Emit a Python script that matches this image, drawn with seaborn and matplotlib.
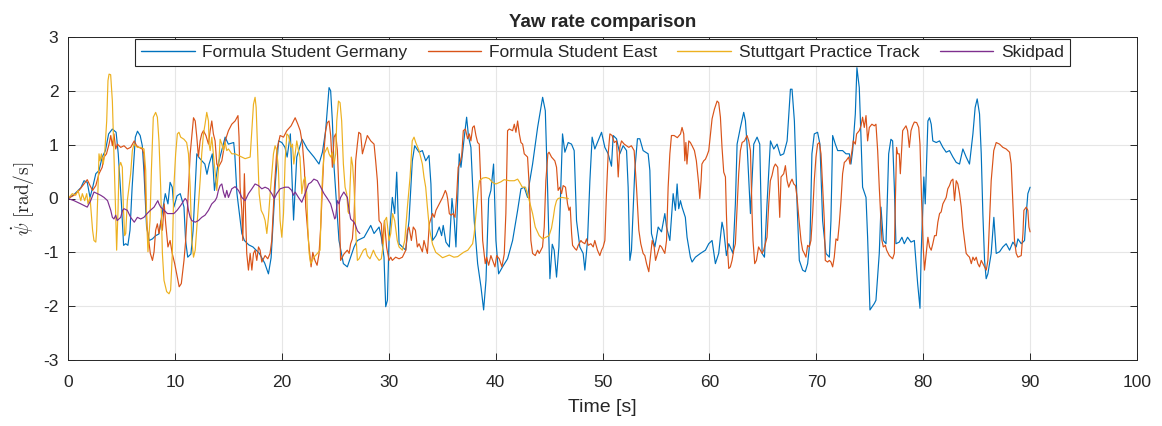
import matplotlib
matplotlib.use("Agg")
import matplotlib.pyplot as plt
import seaborn as sns

# yaw rate traces, (time [s], yaw rate [rad/s])
fsg = [
    (0.0, 0.0), (0.6, 0.08), (1.2, 0.2), (1.5, 0.33), (1.8, 0.3), (2.06, 0.02), (2.3, 0.2), (2.6, 0.46),
    (2.9, 0.52), (3.2, 0.77), (3.5, 0.89), (3.8, 1.2), (4.15, 1.29), (4.5, 1.23), (4.7, 0.83), (5.0, -0.1),
    (5.2, -0.87), (5.4, -0.84), (5.6, -0.87), (5.8, -0.59), (6.0, 0.21), (6.3, 1.14), (6.5, 1.25), (6.75, 1.17),
    (6.95, 0.98), (7.1, 0.52), (7.35, -0.53), (7.6, -0.78), (7.9, -0.75), (8.2, -0.69), (8.5, -0.66), (8.8, -0.28),
    (9.1, 0.09), (9.35, -0.1), (9.55, 0.3), (9.75, 0.21), (9.9, -0.16), (10.2, 0.05), (10.5, 0.09), (10.85, -0.16),
    (11.0, -0.78), (11.2, -1.09), (11.5, -1.03), (11.7, -0.6), (12.05, 0.83), (12.3, 0.75), (12.8, 0.64), (13.0, 0.45),
    (13.2, 0.64), (13.5, 0.83), (13.7, 0.15), (14.0, 0.6), (14.7, 1.14), (15.0, 1.01), (15.5, 1.04), (15.6, 0.83),
    (15.8, 0.1), (16.26, -0.65), (16.5, -0.78), (16.9, -0.86), (17.3, -0.9), (17.9, -1.02), (18.4, -1.2), (18.75, -1.4),
    (19.0, -1.1), (19.4, 0.3), (19.7, 1.07), (20.0, 1.04), (20.3, 0.95), (20.5, 0.77), (20.8, 1.2), (21.1, -0.4),
    (21.4, 0.77), (21.9, 1.1), (22.39, 0.92), (23.01, 0.77), (23.48, 0.64), (23.8, 0.86), (24.1, 1.26), (24.42, 2.06),
    (24.57, 2.0), (24.73, 1.44), (24.89, 0.58), (25.35, -0.78), (25.76, -1.21), (26.13, -1.27), (26.44, -1.09),
    (26.76, -0.9), (27.07, -0.78), (27.7, -0.72), (28.32, -0.5), (28.63, -0.65), (29.1, -0.53), (29.31, -0.72),
    (29.56, -1.09), (29.72, -2.01), (29.88, -1.89), (30.03, -0.78), (30.34, 0.02), (30.56, -0.28), (30.75, 0.49),
    (30.97, -0.84), (31.28, -0.9), (31.59, -0.96), (31.9, -0.41), (32.21, 0.7), (32.43, 0.98), (32.84, 0.86),
    (33.15, 0.89), (33.46, 0.7), (33.77, 0.8), (33.95, 0.27), (34.1, -0.78), (34.42, -0.69), (34.73, -0.53),
    (34.95, -0.69), (35.1, -0.5), (35.35, -0.81), (35.67, -0.9), (35.92, 0.0), (36.13, -0.41), (36.29, -0.9),
    (36.6, 0.83), (36.76, 0.58), (37.07, 1.14), (37.29, 1.51), (37.47, 1.14), (37.69, 0.95), (38.0, -0.41),
    (38.32, -1.21), (38.63, -1.64), (38.88, -2.07), (39.1, -1.52), (39.35, 0.0), (39.56, 0.15), (39.81, 0.64),
    (40.03, -0.78), (40.28, -1.4), (40.65, -1.27), (41.12, -1.12), (41.59, -0.78), (42.06, -0.22), (42.37, 0.18),
    (42.68, 0.21), (42.99, 0.02), (43.15, 0.27), (43.46, 0.64), (43.93, 1.32), (44.4, 1.88), (44.65, 1.63),
    (44.86, 0.21), (45.08, -1.49), (45.3, -0.85), (45.48, -0.96), (45.7, -1.46), (45.92, -0.9), (46.1, 0.21),
    (46.26, 1.2), (46.48, 0.86), (46.79, 1.04), (47.1, 1.01), (47.35, 0.89), (47.57, -0.41), (47.88, -0.9),
    (48.19, -1.02), (48.35, -1.33), (48.6, -0.78), (48.82, 0.33), (49.03, 1.14), (49.28, 0.92), (49.59, 1.07),
    (49.91, 1.23), (50.22, 0.95), (50.53, 0.83), (50.84, 0.6), (51.0, 1.17), (51.31, 1.11), (51.62, 0.83),
    (51.93, 0.98), (52.25, 0.89), (52.4, 0.21), (52.56, -1.15), (52.71, -0.96), (53.02, 0.52), (53.27, 1.11),
    (53.49, 1.11), (53.8, 0.89), (54.27, 0.83), (54.43, 0.52), (54.58, -0.65), (54.9, -0.9), (55.21, -0.53),
    (55.52, -0.62), (55.83, -0.28), (55.99, -0.53), (56.3, -0.78), (56.61, 0.09), (56.82, -0.22), (56.98, 0.27),
    (57.13, -0.19), (57.29, -0.04), (57.44, -0.16), (57.75, -0.35), (57.91, -0.72), (58.22, -1.09), (58.38, -1.18),
    (58.69, -1.09), (59.16, -1.02), (59.63, -0.96), (59.94, -0.84), (60.25, -0.78), (60.56, -1.21), (60.87, -1.02),
    (61.18, -0.44), (61.34, -0.59), (61.59, -1.06), (61.81, -0.84), (62.21, -1.02), (62.43, -0.1), (62.59, 1.01),
    (62.9, 1.32), (63.21, 1.6), (63.37, 1.44), (63.52, 1.01), (63.84, -0.28), (64.15, 1.01), (64.46, 1.14),
    (64.71, 1.01), (64.93, -1.02), (65.15, -1.09), (65.39, -0.1), (65.71, 1.07), (66.02, 0.92), (66.33, 1.01),
    (66.64, 0.8), (66.95, 0.83), (67.27, 1.07), (67.58, 2.03), (67.73, 2.03), (67.95, 1.44), (68.2, -0.1),
    (68.41, -1.15), (68.72, -1.33), (68.97, -1.36), (69.19, -1.21), (69.41, -0.78), (69.59, 0.83), (69.81, 1.2),
    (70.12, 1.23), (70.34, 1.01), (70.59, -0.41), (70.9, -1.02), (71.22, -1.09), (71.37, -0.41), (71.53, 1.17),
    (71.78, 1.01), (72.0, 0.89), (72.46, 0.89), (72.78, 0.83), (73.09, 0.83), (73.24, 0.64), (73.4, 0.89),
    (73.65, 1.57), (73.8, 2.43), (74.02, 2.06), (74.18, 1.14), (74.33, 0.21), (74.65, 0.02), (74.8, -0.72),
    (75.02, -2.07), (75.43, -1.95), (75.58, -1.89), (75.89, -1.02), (76.05, -0.16), (76.27, -0.78), (76.52, -0.84),
    (76.77, 0.83), (76.98, 1.1), (77.14, 1.07), (77.3, 0.21), (77.45, -0.84), (77.76, -0.81), (78.01, -0.72),
    (78.23, -0.84), (78.54, -0.72), (78.86, -0.81), (79.17, -0.78), (79.48, -1.58), (79.7, -2.04), (79.81, -1.02),
    (80.06, 0.4), (80.19, -0.1), (80.44, 1.44), (80.59, 1.5), (80.75, 1.38), (80.9, 1.07), (81.22, 1.04),
    (81.53, 1.07), (81.84, 0.95), (82.15, 0.86), (82.46, 0.89), (82.78, 0.77), (83.09, 0.67), (83.4, 0.64),
    (83.71, 0.92), (84.02, 0.77), (84.33, 0.64), (84.65, 1.2), (84.86, 1.69), (85.05, 1.85), (85.27, 1.57),
    (85.43, 0.83), (85.58, -0.28), (85.74, -1.15), (85.89, -1.49), (86.05, -1.4), (86.36, -1.02), (86.61, -0.35),
    (86.83, -1.02), (87.14, -0.99), (87.45, -0.9), (87.76, -0.84), (88.08, -0.96), (88.39, -0.81), (88.7, -0.9),
    (88.86, -0.75), (89.17, -0.84), (89.48, -0.78), (89.64, -0.28), (89.79, 0.09), (90.0, 0.21),
]

fse = [
    (0.0, 0.0), (0.56, 0.06), (1.03, 0.15), (1.5, 0.27), (1.8, 0.35), (2.06, 0.24), (2.3, 0.15), (2.6, 0.24),
    (2.9, 0.46), (3.2, 0.58), (3.37, 0.77), (3.6, 0.83), (3.84, 1.01), (4.0, 1.17), (4.15, 0.98), (4.3, 1.2),
    (4.46, 0.92), (4.62, 1.01), (4.93, 0.95), (5.24, 0.98), (5.55, 0.92), (5.86, 0.95), (6.2, 1.07), (6.42, 0.98),
    (6.64, 0.95), (6.95, 0.92), (7.1, 0.83), (7.25, 0.09), (7.4, -0.53), (7.55, -0.78), (7.7, -1.02), (7.9, -1.15),
    (8.05, -0.99), (8.2, -0.59), (8.36, -0.47), (8.51, -0.65), (8.7, -0.41), (8.83, -0.59), (9.0, -0.1),
    (9.14, -0.47), (9.35, -0.9), (9.55, -0.78), (9.75, -1.02), (9.98, -1.21), (10.2, -1.43), (10.4, -1.64),
    (10.6, -1.58), (10.85, -1.15), (11.0, -0.8), (11.2, -0.1), (11.43, 0.83), (11.74, 1.5), (11.9, 1.44),
    (12.05, 1.14), (12.2, 0.77), (12.36, 1.07), (12.51, 1.2), (12.67, 1.26), (12.9, 1.17), (13.14, 1.01),
    (13.3, 1.26), (13.45, 1.44), (13.6, 1.2), (13.76, 1.07), (13.92, 0.64), (14.07, 0.58), (14.39, 0.7),
    (14.7, 1.07), (15.01, 1.26), (15.32, 1.38), (15.63, 1.44), (15.9, 1.54), (16.0, 1.14), (16.1, 0.21),
    (16.26, -0.22), (16.35, -0.78), (16.5, 0.46), (16.63, -0.41), (16.72, -1.02), (16.88, -1.33), (17.04, -1.02),
    (17.2, -1.33), (17.35, -1.02), (17.5, -0.96), (17.66, -1.15), (17.82, -0.9), (17.97, -0.96), (18.13, -1.18),
    (18.44, -1.06), (18.69, -1.12), (18.9, -1.02), (19.06, -0.78), (19.31, 0.21), (19.53, 0.89), (19.84, 1.17),
    (20.16, 1.14), (20.47, 1.26), (20.87, 1.35), (21.25, 1.5), (21.5, 1.38), (21.72, 1.26), (21.93, 1.01),
    (22.12, 0.52), (22.24, -0.16), (22.49, -0.78), (22.74, -1.27), (22.9, -1.0), (23.1, -1.15), (23.3, -1.24),
    (23.48, -1.03), (23.64, -0.53), (23.8, 0.21), (23.95, 0.89), (24.1, 1.26), (24.26, 1.41), (24.42, 1.44),
    (24.57, 1.17), (24.73, 0.58), (24.89, 1.14), (25.04, 1.2), (25.2, 0.89), (25.35, 0.09), (25.5, -1.15),
    (25.82, -1.03), (26.13, -0.96), (26.3, -1.02), (26.44, -0.84), (26.6, -0.75), (26.76, -0.35), (26.91, 0.7),
    (27.07, 1.01), (27.2, 1.23), (27.38, 1.2), (27.54, 0.83), (27.7, 0.95), (28.0, 1.17), (28.32, 1.07),
    (28.63, 1.01), (28.78, 0.7), (28.94, 0.33), (29.1, -0.41), (29.31, -0.47), (29.41, -0.84), (29.6, -0.41),
    (29.8, -0.9), (30.03, -1.15), (30.19, -1.09), (30.34, -1.15), (30.65, -1.09), (30.97, -1.12), (31.28, -1.09),
    (31.6, -0.96), (31.75, -0.59), (31.9, -0.53), (32.12, -0.78), (32.3, -0.53), (32.5, -0.59), (32.68, -0.9),
    (32.84, -0.84), (33.15, -0.99), (33.3, -0.78), (33.46, -0.9), (33.62, -1.02), (33.8, -0.47), (34.1, -0.28),
    (34.26, -0.35), (34.42, -0.22), (34.73, -0.1), (35.04, 0.02), (35.3, 0.15), (35.42, 0.09), (35.51, 0.0),
    (35.67, -0.28), (35.83, -0.31), (36.04, -0.28), (36.2, -0.35), (36.35, 0.02), (36.5, 0.58), (36.63, 0.64),
    (36.82, 0.77), (36.98, 1.26), (37.17, 1.29), (37.38, 1.11), (37.54, 1.2), (37.69, 1.07), (37.85, 1.32),
    (38.0, 1.35), (38.16, 1.17), (38.32, 1.04), (38.47, 1.01), (38.63, 0.21), (38.79, -0.78), (39.03, -1.21),
    (39.16, -1.09), (39.35, -1.24), (39.56, -1.06), (39.72, -1.15), (39.94, -1.27), (40.1, -1.06), (40.34, -1.12),
    (40.59, -1.27), (40.81, -1.03), (40.96, -0.28), (41.12, 1.26), (41.28, 1.29), (41.59, 1.26), (41.75, 1.38),
    (41.9, 1.23), (42.06, 1.44), (42.22, 1.2), (42.37, 1.04), (42.53, 1.01), (42.68, 0.83), (42.99, 0.77),
    (43.15, 0.21), (43.3, -0.78), (43.46, -1.02), (43.71, -1.06), (43.93, -0.96), (44.08, -1.02), (44.39, -0.9),
    (44.55, -0.53), (44.7, 0.33), (44.89, 0.83), (45.0, 0.86), (45.23, 0.77), (45.54, 0.7), (45.7, 0.58),
    (45.85, 0.15), (46.01, 0.21), (46.17, 0.09), (46.32, 0.24), (46.54, 0.21), (46.73, -0.1), (46.86, -0.22),
    (46.98, -0.16), (47.11, -0.65), (47.2, -0.87), (47.42, -0.93), (47.57, -0.96), (47.73, -0.87), (47.98, -0.78),
    (48.1, -0.81), (48.35, -0.84), (48.51, -0.75), (48.66, -0.87), (48.91, -0.84), (49.13, -0.9), (49.28, -0.78),
    (49.53, -0.96), (49.75, -1.06), (49.91, -0.96), (50.06, -0.9), (50.22, -0.78), (50.37, 0.09), (50.53, 0.83),
    (50.69, 1.2), (50.9, 1.17), (51.1, 1.04), (51.31, 1.07), (51.47, 0.4), (51.62, 0.95), (51.78, 1.07),
    (52.03, 1.01), (52.25, 0.98), (52.46, 0.95), (52.7, 0.98), (52.96, 0.89), (53.18, 0.21), (53.4, -0.59),
    (53.58, -0.84), (53.8, -1.02), (53.96, -1.06), (54.12, -1.21), (54.33, -1.36), (54.52, -1.02), (54.65, -0.78),
    (54.83, -0.9), (54.96, -1.15), (55.15, -1.02), (55.37, -0.87), (55.52, -0.9), (55.68, -0.96), (55.83, -1.02),
    (55.99, -0.78), (56.14, 0.21), (56.3, 0.83), (56.45, 1.17), (56.7, 1.17), (57.0, 1.13), (57.3, 1.2),
    (57.44, 1.32), (57.6, 1.2), (57.7, 0.7), (57.8, 1.04), (57.9, 0.64), (58.07, 1.07), (58.22, 1.04),
    (58.38, 0.98), (58.6, 0.89), (58.78, 0.7), (59.0, 0.27), (59.1, 0.0), (59.22, 0.33), (59.3, 0.64),
    (59.47, 0.7), (59.63, 0.73), (59.78, 0.8), (59.94, 0.89), (60.1, 1.2), (60.25, 1.48), (60.47, 1.66),
    (60.72, 1.81), (60.87, 1.78), (61.03, 1.51), (61.18, 0.95), (61.34, 0.49), (61.5, 0.4), (61.59, -0.28),
    (61.72, -1.02), (61.81, -1.3), (61.96, -1.27), (62.12, -1.15), (62.28, -0.96), (62.43, -0.84), (62.59, -0.16),
    (62.74, 0.46), (62.9, 0.89), (63.06, 1.04), (63.28, 1.07), (63.52, 1.17), (63.68, 1.07), (63.84, 0.89),
    (63.99, -0.28), (64.08, -0.78), (64.24, -1.21), (64.4, -1.15), (64.6, -0.9), (64.77, -0.96), (64.93, -1.02),
    (65.08, -0.96), (65.39, -0.72), (65.55, -0.1), (65.7, 0.33), (65.86, 0.43), (66.02, 0.58), (66.17, 0.64),
    (66.39, 0.58), (66.58, -0.35), (66.7, 0.4), (66.95, 0.46), (67.11, 0.61), (67.27, 0.33), (67.42, 0.21),
    (67.58, 0.3), (67.73, 0.36), (67.89, 0.27), (68.05, 0.24), (68.2, 0.02), (68.36, -0.35), (68.57, -0.78),
    (68.72, -0.96), (68.88, -1.02), (69.03, -1.09), (69.19, -0.87), (69.35, -0.9), (69.5, -0.78), (69.66, -0.28),
    (69.81, 0.33), (69.97, 0.77), (70.12, 1.01), (70.28, 1.04), (70.44, 0.83), (70.59, 0.21), (70.75, -0.41),
    (70.84, -1.15), (71.06, -1.18), (71.22, -1.15), (71.37, -1.18), (71.53, -1.27), (71.68, -1.09), (71.84, -0.75),
    (72.0, -0.78), (72.15, -0.47), (72.31, -0.04), (72.46, 0.46), (72.62, 0.67), (72.78, 0.7), (73.03, 0.77),
    (73.15, 0.64), (73.34, 0.89), (73.46, 1.07), (73.65, 1.01), (73.77, 1.2), (74.02, 1.26), (74.18, 1.35),
    (74.33, 1.51), (74.49, 1.32), (74.65, 1.54), (74.8, 1.07), (74.96, 1.32), (75.2, 1.38), (75.43, 1.35),
    (75.58, 1.38), (75.74, 0.89), (75.89, 0.21), (76.05, -0.41), (76.14, -0.78), (76.27, -0.9), (76.46, -0.87),
    (76.58, -0.96), (76.83, -1.06), (77.14, -1.12), (77.3, -1.02), (77.39, -0.1), (77.51, 0.95), (77.61, 0.83),
    (77.76, 0.83), (77.86, 0.46), (78.08, 1.26), (78.39, 1.35), (78.54, 1.26), (78.7, 0.95), (78.86, 1.26),
    (79.01, 1.35), (79.17, 1.42), (79.39, 1.41), (79.58, 1.32), (79.7, 1.01), (79.85, -0.04), (80.0, -0.9),
    (80.12, -1.33), (80.28, -1.02), (80.44, -0.72), (80.59, -0.9), (80.75, -0.96), (80.9, -0.84), (81.06, -0.69),
    (81.22, -0.69), (81.37, -0.44), (81.53, -0.28), (81.68, -0.25), (81.84, -0.1), (82.0, -0.04), (82.15, 0.02),
    (82.3, 0.18), (82.46, 0.24), (82.62, 0.33), (82.78, 0.36), (82.93, -0.04), (83.09, 0.33), (83.24, 0.27),
    (83.4, 0.09), (83.56, -0.16), (83.71, -0.53), (83.87, -0.78), (84.02, -1.02), (84.18, -1.06), (84.33, -1.09),
    (84.5, -1.21), (84.65, -1.09), (84.8, -1.15), (84.96, -1.09), (85.11, -1.21), (85.27, -1.27), (85.43, -1.15),
    (85.58, -1.21), (85.74, -1.27), (85.9, -1.33), (86.05, -1.15), (86.21, -0.41), (86.36, 0.33), (86.6, 0.89),
    (86.83, 1.04), (87.14, 1.01), (87.45, 0.95), (87.76, 0.92), (88.08, 0.86), (88.23, 0.64), (88.39, -0.1),
    (88.54, -0.78), (88.7, -1.02), (88.86, -1.09), (89.17, -1.06), (89.33, -0.65), (89.42, -0.22), (89.64, -0.16),
    (89.79, -0.22), (89.89, -0.53), (90.0, -0.62),
]

stuttgart = [
    (0.0, 0.0), (0.4, 0.09), (0.72, 0.06), (0.94, 0.15), (1.2, -0.04), (1.34, 0.09), (1.56, -0.04), (1.75, 0.09),
    (1.87, -0.1), (2.06, 0.02), (2.18, -0.28), (2.3, -0.59), (2.43, -0.78), (2.6, -0.81), (2.68, -0.59),
    (2.81, 0.21), (2.9, 0.83), (3.0, 0.7), (3.12, 0.83), (3.3, 0.64), (3.43, 0.83), (3.62, 1.44), (3.74, 2.19),
    (3.84, 2.31), (3.99, 2.3), (4.15, 1.81), (4.3, 0.83), (4.46, -0.28), (4.55, -0.96), (4.68, -0.22), (4.77, 0.58),
    (4.93, 0.67), (5.08, 0.58), (5.18, -0.16), (5.3, -0.69), (5.4, -0.65), (5.55, -0.04), (5.7, 0.21), (5.86, 0.46),
    (6.02, 0.89), (6.17, 1.01), (6.49, 0.95), (6.8, 0.95), (7.11, 0.92), (7.27, 0.52), (7.36, -0.41), (7.48, -0.99),
    (7.67, -0.41), (7.8, 0.52), (7.98, 1.51), (8.2, 1.6), (8.36, 1.51), (8.51, 1.07), (8.67, 0.21), (8.83, -1.02),
    (8.98, -1.52), (9.23, -1.73), (9.45, -1.77), (9.6, -1.7), (9.76, -1.02), (9.9, 0.21), (10.07, 0.83),
    (10.23, 1.2), (10.38, 1.23), (10.54, 1.14), (10.85, 1.1), (11.1, 1.04), (11.27, 0.83), (11.43, 0.21),
    (11.58, -0.78), (11.74, -1.09), (11.9, -0.96), (12.05, -0.53), (12.2, -0.1), (12.36, 0.33), (12.51, 0.83),
    (12.67, 1.2), (12.82, 1.38), (12.98, 1.6), (13.14, 1.44), (13.2, 1.01), (13.3, 0.89), (13.45, 1.14),
    (13.6, 0.83), (13.76, 0.52), (13.92, 0.15), (14.07, 0.52), (14.23, 1.1), (14.39, 1.01), (14.54, 0.89),
    (14.7, 1.04), (14.85, 0.89), (15.01, 0.92), (15.32, 0.83), (15.63, 0.83), (15.95, 0.8), (16.26, 0.77),
    (16.57, 0.74), (17.04, 0.77), (17.2, 1.26), (17.35, 1.75), (17.5, 1.88), (17.6, 1.69), (17.75, 0.83),
    (17.88, 0.09), (18.07, -0.22), (18.29, -0.31), (18.44, -0.41), (18.6, -0.65), (18.75, -0.35), (18.91, 0.09),
    (19.06, 0.46), (19.22, 0.83), (19.37, 0.98), (19.53, 0.89), (19.69, 0.52), (19.84, -0.41), (20.0, -0.72),
    (20.16, -0.28), (20.31, 0.7), (20.47, 1.2), (20.62, 1.17), (20.87, 0.95), (21.0, 1.01), (21.12, 0.64),
    (21.25, 0.83), (21.4, 1.07), (21.56, 0.89), (21.7, 0.77), (21.87, 0.09), (22.03, 0.33), (22.18, 0.4),
    (22.34, 0.09), (22.43, -0.53), (22.56, -1.02), (22.7, -1.21), (23.01, -1.09), (23.33, -1.02), (23.58, -0.96),
    (23.7, -0.1), (23.8, 0.4), (23.95, 0.83), (24.1, 0.89), (24.26, 0.95), (24.42, 0.83), (24.57, 0.77),
    (24.73, 0.86), (24.89, 0.64), (25.04, 0.83), (25.14, 1.44), (25.3, 1.81), (25.45, 1.78), (25.6, 1.44),
    (25.76, 0.64), (25.92, 0.21), (26.07, 0.09), (26.2, -0.25), (26.3, -0.28), (26.38, 0.21), (26.5, 0.77),
    (26.63, 0.61), (26.76, 0.21), (26.91, -0.59), (27.07, -1.15), (27.23, -1.12), (27.38, -1.06), (27.63, -0.96),
    (27.85, -0.93), (28.0, -1.06), (28.25, -1.12), (28.57, -0.96), (28.78, -1.06), (29.1, -1.15), (29.31, -1.12),
    (29.5, -0.84), (29.63, -0.41), (29.8, -0.35), (30.03, -0.78), (30.19, -0.65), (30.37, -0.28), (30.56, -0.41),
    (30.8, -0.78), (30.97, -0.9), (31.28, -0.96), (31.5, -0.78), (31.75, -0.16), (32.0, 0.4), (32.2, 1.07),
    (32.37, 1.14), (32.53, 1.04), (32.84, 0.89), (33.15, 0.64), (33.3, 0.4), (33.46, 0.21), (33.62, -0.16),
    (33.8, -0.55), (34.1, -0.85), (34.4, -1.0), (34.73, -1.05), (35.04, -1.1), (35.67, -1.05), (36.1, -1.09),
    (36.45, -1.08), (37.0, -1.0), (37.4, -0.96), (37.85, -0.84), (38.0, -0.65), (38.2, -0.22), (38.35, 0.12),
    (38.5, 0.33), (38.8, 0.38), (39.1, 0.39), (39.4, 0.37), (39.7, 0.3), (40.03, 0.27), (40.5, 0.31), (40.8, 0.35),
    (41.3, 0.33), (41.75, 0.33), (42.06, 0.36), (42.25, 0.3), (42.5, 0.21), (42.8, 0.21), (43.15, -0.04),
    (43.46, -0.28), (43.71, -0.53), (44.08, -0.69), (44.4, -0.75), (44.7, -0.72), (45.0, -0.69), (45.23, -0.55),
    (45.4, -0.35), (45.54, -0.16), (45.7, -0.04), (45.85, 0.0), (46.2, 0.02), (46.5, 0.01), (46.8, 0.0),
]

skidpad = [
    (0.0, 0.0), (0.56, -0.04), (1.2, -0.1), (1.8, -0.16), (2.12, -0.04), (2.43, 0.12), (2.75, 0.09), (3.06, 0.06),
    (3.37, 0.02), (3.7, -0.04), (4.0, -0.22), (4.15, -0.35), (4.3, -0.38), (4.46, -0.31), (4.6, -0.41),
    (4.93, -0.35), (5.1, -0.22), (5.24, -0.19), (5.55, -0.22), (5.86, -0.35), (6.2, -0.44), (6.49, -0.35),
    (6.8, -0.38), (7.1, -0.35), (7.4, -0.28), (7.7, -0.22), (8.05, -0.16), (8.4, -0.04), (8.51, -0.1),
    (8.67, -0.16), (9.0, -0.22), (9.3, -0.28), (9.6, -0.28), (9.9, -0.28), (10.2, -0.22), (10.54, -0.13),
    (10.96, 0.0), (11.12, -0.04), (11.27, -0.22), (11.43, -0.35), (11.58, -0.41), (11.9, -0.44), (12.2, -0.41),
    (12.51, -0.35), (12.82, -0.31), (13.14, -0.22), (13.45, -0.1), (13.76, -0.04), (13.92, 0.02), (14.07, 0.15),
    (14.23, 0.24), (14.39, 0.27), (14.54, 0.12), (14.7, 0.02), (14.85, 0.15), (15.01, 0.02), (15.32, 0.18),
    (15.63, 0.22), (15.95, 0.15), (16.26, 0.02), (16.57, -0.04), (16.88, 0.09), (17.2, 0.18), (17.5, 0.27),
    (17.82, 0.24), (18.13, 0.18), (18.44, 0.21), (18.75, 0.18), (19.06, 0.09), (19.3, 0.0), (19.53, 0.09),
    (19.84, 0.18), (20.3, 0.21), (20.62, 0.21), (20.93, 0.15), (21.09, 0.06), (21.25, 0.12), (21.56, 0.02),
    (21.87, -0.07), (22.18, 0.09), (22.5, 0.27), (22.74, 0.3), (23.0, 0.36), (23.33, 0.33), (23.64, 0.21),
    (23.95, 0.09), (24.26, 0.0), (24.57, -0.1), (24.82, -0.28), (24.95, -0.38), (25.04, -0.35), (25.2, -0.04),
    (25.35, -0.1), (25.5, 0.02), (25.8, 0.12), (26.13, 0.02), (26.3, -0.22), (26.44, -0.38), (26.76, -0.44),
    (26.9, -0.5), (27.07, -0.6), (27.3, -0.65),
]

series_names = ["Formula Student Germany", "Formula Student East", "Stuttgart Practice Track", "Skidpad"]
series_colors = ["#0072BD", "#D95319", "#EDB120", "#7E2F8E"]

sns.set_style("ticks")
plt.rcParams["font.family"] = ["Liberation Sans", "DejaVu Sans"]
plt.rcParams["mathtext.fontset"] = "cm"
plt.rcParams["axes.unicode_minus"] = False

fig = plt.figure(figsize=(11.62, 4.26), dpi=100)
ax = fig.add_axes([68 / 1162, 1 - 360 / 426, (1137 - 68) / 1162, (360 - 37) / 426])

for data, name, color in zip([fsg, fse, stuttgart, skidpad], series_names, series_colors):
    t = [p[0] for p in data]
    v = [p[1] for p in data]
    sns.lineplot(x=t, y=v, ax=ax, color=color, linewidth=0.85, label=name,
                 estimator=None, sort=False)

ax.set_xlim(0, 100)
ax.set_ylim(-3, 3)
ax.set_xticks(range(0, 101, 10))
ax.set_yticks(range(-3, 4))
ax.grid(True, color="#E6E6E6", linewidth=0.8)
ax.set_axisbelow(True)
for s in ax.spines.values():
    s.set_color("#262626")
    s.set_linewidth(0.7)
ax.tick_params(direction="in", top=True, right=True, length=5, width=0.7,
               color="#262626", labelsize=12.5, labelcolor="#262626")
ax.tick_params(axis="x", pad=11)
ax.tick_params(axis="y", pad=7)

ax.set_title("Yaw rate comparison", fontsize=13.5, fontweight="bold", pad=7)
ax.set_xlabel("Time [s]", fontsize=14, color="#262626", labelpad=6)
ax.set_ylabel(r"$\dot{\psi}\ \mathrm{[rad/s]}$", fontsize=14, color="#262626", labelpad=4)

leg = ax.legend(loc="upper center", bbox_to_anchor=(0.5, 1.0), ncol=4, fontsize=12.5,
                frameon=True, fancybox=False, edgecolor="#262626", framealpha=1,
                handlelength=3.1, handletextpad=0.45, columnspacing=1.15, borderpad=0.35,
                borderaxespad=0.1)
leg.get_frame().set_linewidth(0.8)
for line in leg.get_lines():
    line.set_linewidth(1.0)

fig.savefig("out.png", dpi=100)
